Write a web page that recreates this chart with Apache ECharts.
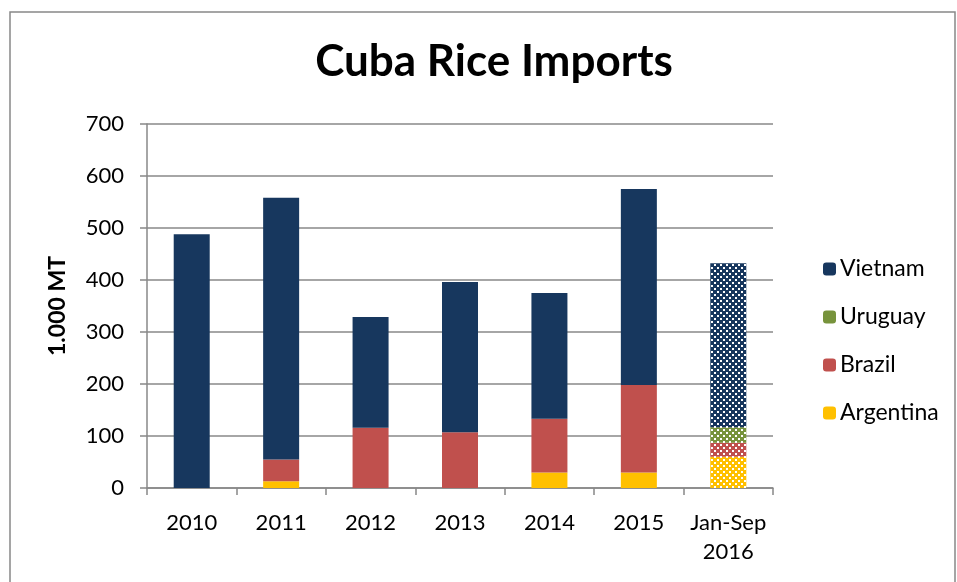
<!DOCTYPE html>
<html>
<head>
<meta charset="utf-8">
<script src="https://cdn.jsdelivr.net/npm/echarts@6/dist/echarts.min.js"></script>
<style>
html,body{margin:0;padding:0;background:#fff;}
#main{width:957px;height:582px;}
</style>
</head>
<body>
<div id="main"></div>
<script>
var categories = ['2010', '2011', '2012', '2013', '2014', '2015', 'Jan-Sep\n2016'];
var argentina = [0, 13, 0, 0, 30, 30, 60];
var brazil = [0, 42, 116, 107, 103, 168, 27];
var uruguay = [0, 0, 0, 0, 0, 0, 30];
var vietnam = [488, 503, 213, 289, 242, 377, 315];
var yTicks = { min: 0, max: 700, interval: 100 };

var colors = { Vietnam: '#17375E', Uruguay: '#77933C', Brazil: '#C0504D', Argentina: '#FFC000' };
var fontFam = 'Lato, "Open Sans", sans-serif';

function pattern(col) {
  var c = document.createElement('canvas');
  c.width = 6; c.height = 6;
  var g = c.getContext('2d');
  g.fillStyle = col; g.fillRect(0, 0, 6, 6);
  g.fillStyle = '#ffffff';
  g.fillRect(0, 0, 2, 2);
  g.fillRect(3, 3, 2, 2);
  return { image: c, repeat: 'repeat' };
}

function mkData(arr, name) {
  var last = arr.length - 1;
  return arr.map(function (v, i) {
    if (i === last) return { value: v, itemStyle: { color: pattern(colors[name]) } };
    return v;
  });
}

function mkSeries(name, arr) {
  return {
    name: name, type: 'bar', stack: 'total', barWidth: 36,
    itemStyle: { color: colors[name] },
    data: mkData(arr, name)
  };
}

var chart = echarts.init(document.getElementById('main'));
chart.setOption({
  animation: false,
  backgroundColor: '#fff',
  title: {
    text: 'Cuba Rice Imports', left: 489, top: 35, textAlign: 'center',
    textStyle: { fontFamily: fontFam, fontSize: 44, fontWeight: 'bold', color: '#000' }
  },
  graphic: [{
    type: 'rect', shape: { x: 10, y: 12, width: 945, height: 580 },
    style: { fill: null, stroke: '#888', lineWidth: 1.5 }, silent: true
  }],
  legend: {
    orient: 'vertical', left: 818, top: 252, itemWidth: 13, itemHeight: 13, itemGap: 24,
    data: ['Vietnam', 'Uruguay', 'Brazil', 'Argentina'],
    textStyle: { fontFamily: fontFam, fontSize: 23, color: '#000', lineHeight: 24, padding: [0, 0, 0, -1] }
  },
  grid: { left: 147, right: 184, top: 124, bottom: 94 },
  xAxis: {
    type: 'category', data: categories,
    axisLine: { lineStyle: { color: '#888', width: 1.5 } },
    axisTick: { show: true, length: 7, lineStyle: { color: '#888', width: 1.5 } },
    axisLabel: { interval: 0, fontFamily: fontFam, fontSize: 22, color: '#000', margin: 20, lineHeight: 29 }
  },
  yAxis: {
    type: 'value', min: yTicks.min, max: yTicks.max, interval: yTicks.interval,
    name: '1.000 MT', nameLocation: 'middle', nameGap: 78,
    nameTextStyle: { fontFamily: fontFam, fontSize: 23, fontWeight: 'bold', color: '#000' },
    axisLine: { show: true, lineStyle: { color: '#888', width: 1.5 } },
    axisTick: { show: true, length: 7, lineStyle: { color: '#888', width: 1.5 } },
    splitLine: { lineStyle: { color: '#888', width: 1.5 } },
    axisLabel: { fontFamily: fontFam, fontSize: 22, color: '#000', margin: 23 }
  },
  series: [
    mkSeries('Argentina', argentina),
    mkSeries('Brazil', brazil),
    mkSeries('Uruguay', uruguay),
    mkSeries('Vietnam', vietnam)
  ]
});
</script>
</body>
</html>
